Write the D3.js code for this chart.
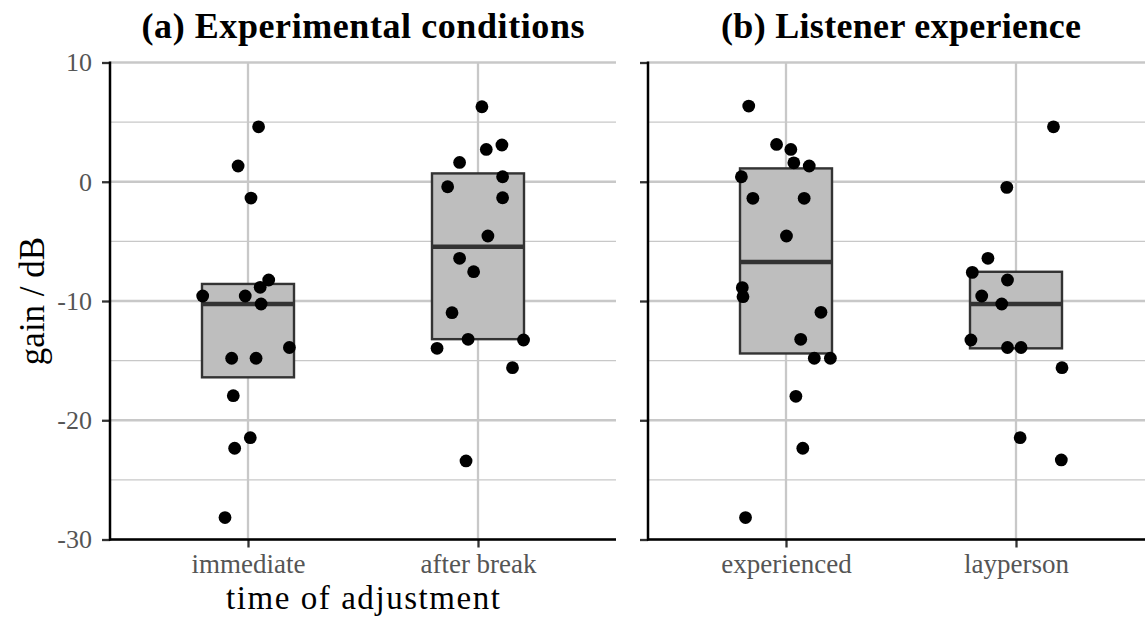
<!DOCTYPE html>
<html><head><meta charset="utf-8">
<script src="https://cdn.jsdelivr.net/npm/d3@7"></script>
<style>body{margin:0;background:#fff;overflow:hidden}svg{display:block}text{font-family:"Liberation Serif","DejaVu Serif",serif}</style>
</head><body><svg id="c" width="1145" height="619"></svg>
<script>
const panelTitles = ["(a) Experimental conditions", "(b) Listener experience"];
const xTitles = ["time of adjustment", ""];
const yTitle = "gain / dB";
const conditionCategories = ["immediate", "after break"];
const experienceCategories = ["experienced", "layperson"];
const yMajorTicks = [10, 0, -10, -20, -30];
const yMinorTicks = [5, -5, -15, -25];

const immediateGain = [4.61, 1.32, -1.37, -8.24, -8.85, -9.58, -9.58, -10.25, -13.9, -14.8, -14.8, -17.94, -21.46, -22.35, -28.16];
const immediateJitter = [0.046, -0.043, 0.013, 0.090, 0.053, -0.197, -0.012, 0.057, 0.180, -0.071, 0.035, -0.064, 0.010, -0.058, -0.100];
const afterBreakGain = [6.29, 3.08, 2.71, 1.62, 0.42, -0.42, -1.34, -4.55, -6.42, -7.54, -10.98, -13.21, -13.27, -13.97, -15.59, -23.41];
const afterBreakJitter = [0.017, 0.104, 0.036, -0.080, 0.107, -0.132, 0.107, 0.043, -0.080, -0.019, -0.113, -0.043, 0.198, -0.178, 0.150, -0.052];
const experiencedGain = [6.35, 3.13, 2.71, 1.59, 1.32, 0.42, -1.39, -1.39, -4.55, -8.88, -9.64, -10.95, -13.21, -14.8, -14.8, -17.99, -22.35, -28.16];
const experiencedJitter = [-0.162, -0.041, 0.021, 0.034, 0.101, -0.194, -0.144, 0.079, 0.002, -0.190, -0.187, 0.152, 0.064, 0.123, 0.193, 0.043, 0.073, -0.176];
const laypersonGain = [4.61, -0.47, -6.42, -7.6, -8.24, -9.58, -10.25, -13.27, -13.9, -13.9, -15.59, -21.46, -23.33];
const laypersonJitter = [0.163, -0.040, -0.122, -0.190, -0.037, -0.149, -0.062, -0.196, -0.037, 0.022, 0.200, 0.018, 0.197];

// box stats: lower hinge, median, upper hinge
const conditionBoxLower = [-16.4, -13.2];
const conditionBoxMedian = [-10.25, -5.45];
const conditionBoxUpper = [-8.57, 0.7];
const experienceBoxLower = [-14.4, -13.97];
const experienceBoxMedian = [-6.73, -10.25];
const experienceBoxUpper = [1.12, -7.55];

const panels = [
  {title: panelTitles[0], titleLen: 443, xTitle: xTitles[0], cats: conditionCategories, left: 110, right: 616, showY: true,
   groups: [{g: immediateGain, j: immediateJitter}, {g: afterBreakGain, j: afterBreakJitter}],
   lo: conditionBoxLower, med: conditionBoxMedian, hi: conditionBoxUpper},
  {title: panelTitles[1], titleLen: 360, xTitle: xTitles[1], cats: experienceCategories, left: 648, right: 1154, showY: false,
   groups: [{g: experiencedGain, j: experiencedJitter}, {g: laypersonGain, j: laypersonJitter}],
   lo: experienceBoxLower, med: experienceBoxMedian, hi: experienceBoxUpper}
];

const svg = d3.select("#c");
const plotTop = 62.5, plotBottom = 539.5;
const y = d3.scaleLinear().domain([-30, 10]).range([plotBottom, plotTop]);
const gridCol = "#c8c8c8";
const boxW = 0.4;
const tickCol = "#555";
const serif = "Liberation Serif";

panels.forEach(p => {
  const x = d3.scaleLinear().domain([0.4, 2.6]).range([p.left, p.right]);
  const g = svg.append("g");
  g.selectAll(".mn").data(yMinorTicks).join("line")
    .attr("x1", p.left).attr("x2", p.right).attr("y1", d => y(d)).attr("y2", d => y(d))
    .attr("stroke", gridCol).attr("stroke-width", 1.2);
  g.selectAll(".mj").data(yMajorTicks).join("line")
    .attr("x1", p.left).attr("x2", p.right).attr("y1", d => y(d)).attr("y2", d => y(d))
    .attr("stroke", gridCol).attr("stroke-width", 2.3);
  g.selectAll(".vx").data(p.cats).join("line")
    .attr("x1", (d, i) => x(i + 1)).attr("x2", (d, i) => x(i + 1)).attr("y1", plotTop).attr("y2", plotBottom)
    .attr("stroke", gridCol).attr("stroke-width", 2.3);
  p.cats.forEach((c, i) => {
    g.append("rect").attr("x", x(i + 1 - boxW / 2)).attr("width", x(i + 1 + boxW / 2) - x(i + 1 - boxW / 2))
      .attr("y", y(p.hi[i])).attr("height", y(p.lo[i]) - y(p.hi[i]))
      .attr("fill", "#bebebe").attr("stroke", "#333").attr("stroke-width", 2.4);
    g.append("line").attr("x1", x(i + 1 - boxW / 2)).attr("x2", x(i + 1 + boxW / 2))
      .attr("y1", y(p.med[i])).attr("y2", y(p.med[i])).attr("stroke", "#333").attr("stroke-width", 4.5);
  });
  p.groups.forEach((grp, i) => {
    g.selectAll(null).data(grp.g).join("circle")
      .attr("cx", (d, k) => x(i + 1 + grp.j[k])).attr("cy", d => y(d)).attr("r", 6.4).attr("fill", "#000");
  });
  const ya = d3.axisLeft(y).tickValues(yMajorTicks).tickSize(8).tickPadding(10)
    .tickFormat(p.showY ? (d => String(d)) : () => "");
  const yg = svg.append("g").attr("transform", `translate(${p.left},0)`).call(ya)
    .attr("font-family", serif);
  yg.select(".domain").remove();
  yg.selectAll(".tick line").attr("stroke", "#333").attr("stroke-width", 2.3);
  yg.selectAll(".tick text").attr("font-size", 26).attr("fill", tickCol).attr("font-family", serif);
  svg.append("line").attr("x1", p.left).attr("x2", p.left).attr("y1", plotTop - 1).attr("y2", plotBottom + 1)
    .attr("stroke", "#000").attr("stroke-width", 2.5);
  const xb = d3.scalePoint().domain(p.cats).range([x(1), x(2)]);
  const xa = d3.axisBottom(xb).tickSize(8).tickPadding(6);
  const xg = svg.append("g").attr("transform", `translate(0,${plotBottom})`).call(xa)
    .attr("font-family", serif);
  xg.select(".domain").remove();
  xg.selectAll(".tick line").attr("stroke", "#333").attr("stroke-width", 2.3);
  xg.selectAll(".tick text").attr("font-size", 27).attr("fill", tickCol).attr("font-family", serif);
  svg.append("line").attr("x1", p.left - 1).attr("x2", p.right).attr("y1", plotBottom).attr("y2", plotBottom)
    .attr("stroke", "#000").attr("stroke-width", 2.5);
  svg.append("text").attr("x", (p.left + p.right) / 2).attr("y", 38).attr("text-anchor", "middle")
    .attr("font-size", 36).attr("font-weight", "bold").attr("fill", "#000").attr("font-family", serif)
    .attr("textLength", p.titleLen).text(p.title);
  if (p.xTitle) svg.append("text").attr("x", (p.left + p.right) / 2).attr("y", 609).attr("text-anchor", "middle")
    .attr("font-size", 33).attr("fill", "#000").attr("font-family", serif).attr("textLength", 274).text(p.xTitle);
});
svg.append("text").attr("transform", `translate(44,${(plotTop + plotBottom) / 2}) rotate(-90)`).attr("text-anchor", "middle")
  .attr("font-size", 35).attr("fill", "#000").attr("font-family", serif).text(yTitle);
</script></body></html>
